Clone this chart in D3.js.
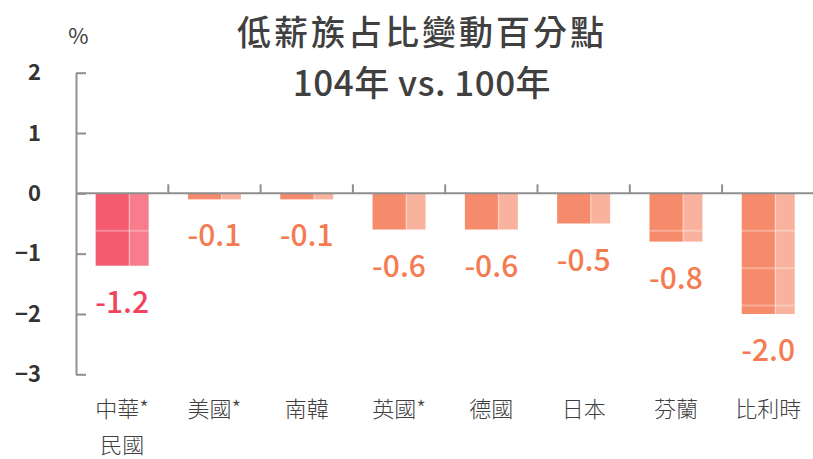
<!DOCTYPE html>
<html>
<head>
<meta charset="utf-8">
<script src="https://cdn.jsdelivr.net/npm/d3@7"></script>
<style>
  html, body { margin: 0; padding: 0; background: #fff; }
  svg { display: block; font-family: "Noto Sans CJK TC", "Noto Sans", sans-serif; }
</style>
</head>
<body>
<svg id="chart" width="813" height="459"></svg>
<script>
// Percentage-point change in the share of low-wage workers, 104 vs. 100
const categories = ["中華民國", "美國", "南韓", "英國", "德國", "日本", "芬蘭", "比利時"];
const categoryLabels = [["中華*", "民國"], ["美國*"], ["南韓"], ["英國*"], ["德國"], ["日本"], ["芬蘭"], ["比利時"]];
const changes = [-1.2, -0.1, -0.1, -0.6, -0.6, -0.5, -0.8, -2.0];
const yTicks = [2, 1, 0, -1, -2, -3];
const titleLines = ["低薪族占比變動百分點", "104年 vs. 100年"];
const unitLabel = "%";

const svg = d3.select("#chart");
const W = 813;

const y = d3.scaleLinear().domain([-3, 2]).range([374.3, 72.7]);
const x = d3.scaleBand().domain(categories).range([76, 814.4]).padding(0);

const axisColor = "#8f8f8f";
const textColor = "#404040";
const tileStep = 0.62; // height of one bar tile, in value units

// Bar palette: the home country is highlighted in pink, others in orange
const palette = (i) => i === 0
  ? { dark: "#f65a6f", light: "#f87c8c", label: "#f2435c" }
  : { dark: "#f68b6b", light: "#f9b29d", label: "#f47b52" };

// Title
svg.append("g").selectAll("text").data(titleLines).join("text")
  .attr("x", 422)
  .attr("y", (d, i) => i === 0 ? 45 : 95.5)
  .attr("text-anchor", "middle")
  .attr("font-size", (d, i) => i === 0 ? 34 : 35)
  .attr("letter-spacing", (d, i) => i === 0 ? 3 : 0.5)
  .attr("font-weight", 500)
  .attr("fill", textColor)
  .text(d => d);

// Unit label
svg.append("text")
  .attr("x", 78.5).attr("y", 44)
  .attr("text-anchor", "middle")
  .attr("font-size", 22)
  .attr("fill", textColor)
  .text(unitLabel);

// Y axis with ticks pointing into the plot
const yAxis = d3.axisLeft(y).tickValues(yTicks).tickFormat(d3.format("d"))
  .tickSizeInner(-10).tickSizeOuter(0).tickPadding(35);
const gy = svg.append("g").attr("transform", "translate(76,0)").call(yAxis);
gy.select(".domain").attr("stroke", axisColor).attr("stroke-width", 2);
gy.selectAll(".tick line").attr("stroke", axisColor).attr("stroke-width", 2);
gy.selectAll(".tick text")
  .attr("font-size", 22).attr("font-weight", 600)
  .attr("fill", "#333").attr("font-family", "\"Noto Sans CJK TC\", sans-serif");

// Bars
const barW = x.bandwidth() * 0.574;
const darkW = barW * 0.635;
const bars = svg.append("g").selectAll("g").data(changes).join("g")
  .attr("transform", (d, i) => `translate(${x(categories[i]) + (x.bandwidth() - barW) / 2},0)`);

bars.append("rect")
  .attr("x", 0).attr("y", y(0))
  .attr("width", darkW).attr("height", d => y(d) - y(0))
  .attr("fill", (d, i) => palette(i).dark);
bars.append("rect")
  .attr("x", darkW).attr("y", y(0))
  .attr("width", barW - darkW).attr("height", d => y(d) - y(0))
  .attr("fill", (d, i) => palette(i).light);
// Seam between the two halves of each bar
bars.append("line")
  .attr("x1", darkW).attr("x2", darkW)
  .attr("y1", y(0)).attr("y2", d => y(d))
  .attr("stroke", "rgba(255,255,255,0.35)").attr("stroke-width", 1.5);
// Tile seams across each bar
bars.each(function (d) {
  const seams = d3.range(1, 10).map(k => -k * tileStep).filter(v => v > d + 0.05);
  d3.select(this).selectAll("line.seam").data(seams).join("line")
    .attr("class", "seam")
    .attr("x1", 0).attr("x2", barW)
    .attr("y1", v => y(v)).attr("y2", v => y(v))
    .attr("stroke", "rgba(255,255,255,0.3)").attr("stroke-width", 2);
});

// Zero line with category separators
svg.append("line")
  .attr("x1", 76).attr("x2", W).attr("y1", y(0)).attr("y2", y(0))
  .attr("stroke", axisColor).attr("stroke-width", 2);
svg.append("g").selectAll("line").data(categories.slice(1)).join("line")
  .attr("x1", d => x(d)).attr("x2", d => x(d))
  .attr("y1", y(0)).attr("y2", y(0) - 9)
  .attr("stroke", axisColor).attr("stroke-width", 2);

// Value labels below each bar
svg.append("g").selectAll("text").data(changes).join("text")
  .attr("x", (d, i) => x(categories[i]) + x.bandwidth() / 2)
  .attr("y", d => y(d) + 47)
  .attr("text-anchor", "middle")
  .attr("font-size", 30)
  .attr("font-weight", 500)
  .attr("fill", (d, i) => palette(i).label)
  .text(d => d3.format(".1f")(d).replace("−", "-"));

// Category labels
const cat = svg.append("g").selectAll("text").data(categoryLabels).join("text")
  .attr("x", (d, i) => x(categories[i]) + x.bandwidth() / 2)
  .attr("y", 417)
  .attr("text-anchor", "middle")
  .attr("font-size", 22)
  .attr("font-weight", 300)
  .attr("fill", textColor);
cat.selectAll("tspan").data(d => d).join("tspan")
  .attr("x", function () { return d3.select(this.parentNode).attr("x"); })
  .attr("dy", (d, i) => i === 0 ? 0 : 36)
  .text(d => d);
</script>
</body>
</html>
